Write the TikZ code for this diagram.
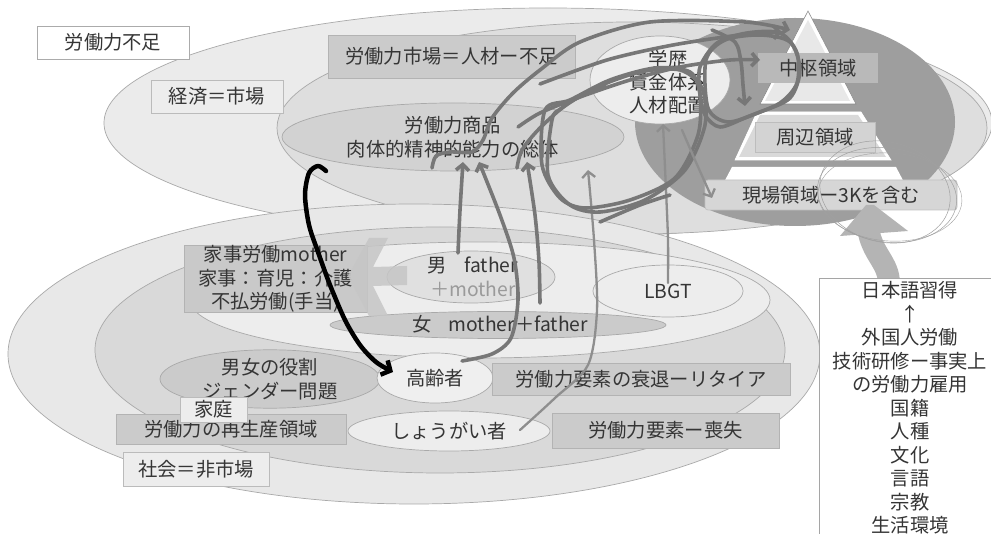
\documentclass[tikz,border=0pt]{standalone}
\usepackage{fontspec}
\setmainfont{Noto Sans CJK JP}
\usetikzlibrary{shapes.geometric,arrows.meta}
\definecolor{txt}{HTML}{353535}
\definecolor{edge}{HTML}{A9A9A9}
\definecolor{econ}{HTML}{EBEBEB}
\definecolor{mkt}{HTML}{DEDEDE}
\definecolor{comm}{HTML}{D2D2D2}
\definecolor{lightf}{HTML}{EDEDED}
\definecolor{midf}{HTML}{D9D9D9}
\definecolor{darkf}{HTML}{CBCBCB}
\definecolor{boxfill}{HTML}{CBCBCB}
\definecolor{boxedge}{HTML}{B3B3B3}
\definecolor{scrib}{HTML}{777777}
\definecolor{thinscrib}{HTML}{8E8E8E}
\definecolor{blob}{HTML}{9E9E9E}
\definecolor{bigarrow}{HTML}{B4B4B4}
\definecolor{pencil}{HTML}{A0A0A0}
\definecolor{triA}{HTML}{E8E8E8}
\definecolor{socF}{HTML}{E8E8E8}
\definecolor{chusuF}{HTML}{B9B9B9}
\definecolor{shuhenF}{HTML}{D3D3D3}
\definecolor{shuhenE}{HTML}{BDBDBD}
\definecolor{genbaF}{HTML}{D6D6D6}
\definecolor{genbaE}{HTML}{C2C2C2}
\definecolor{otokoF}{HTML}{E0E0E0}
\definecolor{plusm}{HTML}{9A9A9A}
\definecolor{koreiF}{HTML}{EFEFEF}
\definecolor{fusokuE}{HTML}{ABABAB}
\definecolor{lightE}{HTML}{BBBBBB}
\definecolor{kajiF}{HTML}{C9C9C9}
\definecolor{chev}{HTML}{C6C6C6}
\definecolor{gaiE}{HTML}{A5A5A5}
\begin{document}
\begin{tikzpicture}[x=1pt,y=-1pt,
  every node/.style={text=txt,font=\fontsize{19.3}{23.5}\selectfont,inner sep=0pt},
  reg/.style={ellipse,draw=edge,line width=0.7pt},
  box/.style={rectangle,draw=boxedge,fill=boxfill,line width=0.8pt},
  scr/.style={draw=scrib,line width=3.6pt,line cap=round,line join=round},
  thinscr/.style={draw=thinscrib,line width=2.3pt,line cap=round,line join=round},
  barb/.style={-{Straight Barb[length=6pt,width=13pt]}},
]
\useasboundingbox (0,0) rectangle (991,534);
\clip (0,0) rectangle (991,534);
\fill[white] (0,0) rectangle (991,534);

% ---------- economy (market) ----------
\node[reg,fill=econ,minimum width=888pt,minimum height=230pt] (econ) at (548,123) {};
\node[reg,fill=mkt,minimum width=710pt,minimum height=212pt] (mkt) at (632,128) {};
\node[reg,fill=comm,minimum width=342pt,minimum height=68pt,align=center] (comm) at (453,137) {労働力商品\\肉体的精神的能力の総体};

% dark region
\fill[blob] (795,122) ellipse [x radius=160pt, y radius=104pt];

% school ellipse
\node[reg,fill=lightf,minimum width=140pt,minimum height=88pt] (gak) at (660,80) {};
\node[align=center,font=\fontsize{19.3}{23}\selectfont] (gakt) at (668,82) {学歴\\賃金体系\\人材配置};

% triangle
\filldraw[fill=white,draw=black!45,line width=0.6pt] (808,11) -- (856,104) -- (760,104) -- cycle;
\fill[triA] (808,20) -- (850,101) -- (765,101) -- cycle;
\filldraw[fill=white,draw=white,line width=0.6pt] (757,112) -- (861,112) -- (891,160) -- (735,160) -- cycle;
\fill[midf] (760,115) -- (858,115) -- (886,157) -- (739,157) -- cycle;
\fill[white] (732,167) -- (896,167) -- (916,205) -- (712,205) -- cycle;

\node[fill=chusuF,minimum width=120pt,minimum height=30pt] (chusu) at (818,68) {中枢領域};
\node[box,fill=shuhenF,draw=shuhenE,minimum width=120pt,minimum height=30pt] (shuhen) at (815,137) {周辺領域};
\node[box,fill=genbaF,draw=genbaE,rounded corners=3pt,minimum width=252pt,minimum height=30pt] (genba) at (831,195) {現場領域ー3Kを含む};

% ---------- society (non-market) ----------
\node[reg,fill=socF,minimum width=812pt,minimum height=300pt] (soc) at (414,354) {};
\node[reg,fill=midf,minimum width=690pt,minimum height=246pt] (fam) at (440,350) {};
\node[reg,fill=lightf,minimum width=580pt,minimum height=116pt] (home) at (480,300) {};
\node[reg,fill=otokoF,minimum width=168pt,minimum height=52pt] (otoko) at (471,277) {};
\node (otokot) at (473,265) {男\hspace{0.9em}father};
\node[text=plusm] (plusmt) at (473,289) {＋mother};
\node[reg,fill=darkf,minimum width=336pt,minimum height=27pt] (onna) at (498,325) {};
\node (onnat) at (500,324) {女\hspace{0.9em}mother＋father};
\node[reg,fill=lightf,minimum width=150pt,minimum height=52pt] (lbgt) at (668,291) {LBGT};
\node[reg,fill=darkf,minimum width=220pt,minimum height=54pt,align=center] (gender) at (270,379) {男女の役割\\ジェンダー問題};
\node[reg,fill=koreiF,minimum width=116pt,minimum height=50pt] (koreisha) at (435,378) {高齢者};
\node[reg,fill=lightf,minimum width=202pt,minimum height=40pt] (shogai) at (449,431) {しょうがい者};

% boxes
\node[box,fill=white,draw=fusokuE,minimum width=152pt,minimum height=33pt] (fusoku) at (113,42.5) {労働力不足};
\node[box,fill=lightf,draw=lightE,minimum width=132pt,minimum height=33pt] (keizai) at (217,96.5) {経済＝市場};
\node[box,minimum width=247pt,minimum height=43pt] (shijo) at (451.5,56.5) {労働力市場＝人材ー不足};
\node[box,fill=kajiF,minimum width=183pt,minimum height=62pt,align=center,font=\fontsize{19.3}{23.5}\selectfont] (kaji) at (275.5,279) {家事労働mother\\家事：育児：介護\\不払労働(手当)};
\node[box,minimum width=230pt,minimum height=30pt] (saisei) at (231,429) {労働力の再生産領域};
\node[box,fill=lightf,draw=lightE,minimum width=67pt,minimum height=25pt] (katei) at (213.5,409.5) {家庭};
\node[box,fill=lightf,draw=lightE,minimum width=146pt,minimum height=34pt] (shakai) at (196,469) {社会＝非市場};
\node[box,minimum width=298pt,minimum height=32pt] (retire) at (641,379) {労働力要素の衰退ーリタイア};
\node[box,minimum width=227pt,minimum height=35pt] (soshitsu) at (665.5,430.5) {労働力要素ー喪失};

% light chevron
\fill[chev,opacity=0.85] (348,276) -- (369,238) -- (388,238) -- (373,267) -- (407,266) -- (407,285) -- (373,286) -- (388,316) -- (369,316) -- cycle;

% ---------- foreign labour ----------
\draw[line width=22pt,bigarrow] (889,284) .. controls (889,262) and (872,255) .. (868,228);
\fill[bigarrow] (840,236) -- (866,205) -- (874,205) -- (908,231) -- cycle;
\node[draw=gaiE,fill=white,line width=0.8pt,minimum width=200pt,minimum height=280pt,anchor=north west] (gaikoku) at (819,278) {};
\node[align=center,font=\fontsize{19.3}{23.5}\selectfont] (gaikokut) at (910,408) {日本語習得\\↑\\外国人労働\\技術研修ー事実上\\の労働力雇用\\国籍\\人種\\文化\\言語\\宗教\\生活環境};

% pencil scribble circle
\draw[pencil,line width=0.5pt,rotate around={-8:(887,195)}] (887,195) ellipse [x radius=70pt, y radius=47pt];
\draw[pencil,line width=0.5pt,rotate around={-14:(885,192)}] (885,192) ellipse [x radius=66pt, y radius=50pt];
\draw[pencil,line width=0.4pt,rotate around={-4:(890,197)}] (890,197) ellipse [x radius=72pt, y radius=44pt];

% ---------- scribbled arrows ----------
\coordinate (a1s) at (458,253);
\draw[scr,barb] plot[smooth] coordinates {(a1s) (460,210) (463,162)};
\draw[scr,barb] plot[smooth] coordinates {(462,361) (492,354) (511,338) (518,300) (514,258) (500,215) (479,162)};
\draw[scr,barb] plot[smooth] coordinates {(540,303) (539,262) (535,215) (527,162)};
\draw[thinscr,barb] plot[smooth] coordinates {(668,283) (668,240) (666,190) (663,124)};
\draw[thinscr,barb] plot[smooth] coordinates {(520,430) (555,398) (588,365) (597,310) (594,240) (588,170)};
\draw[scr,barb] plot[smooth] coordinates {(432,168) (436,156) (450,152) (472,152) (483,140) (492,118) (513,93) (540,70) (580,42) (650,22) (745,22) (790,30)};
\draw[scr,barb] plot[smooth] coordinates {(540,84) (607,60) (673,45) (740,35) (782,32)};
\draw[scr,barb] plot[smooth] coordinates {(518,127) (540,113) (580,97) (630,80) (680,67) (730,60) (760,60)};
\draw[scr] plot[smooth cycle] coordinates {(545,110) (542,165) (560,198) (585,208) (630,200) (675,178) (698,135) (700,95) (690,72) (655,68) (610,80) (570,100)};
\draw[scr] plot[smooth cycle] coordinates {(552,120) (548,175) (570,205) (600,212) (645,200) (685,170) (705,125) (702,88) (680,70) (640,72) (595,88) (562,108)};
\draw[scr] plot[smooth] coordinates {(517,168) (522,150) (540,128) (570,102) (605,86)};
\draw[scr] plot[smooth] coordinates {(600,222) (640,205) (670,195)};
\draw[scr] plot[smooth cycle] coordinates {(700,67) (717,43) (747,33) (780,33) (797,53) (797,83) (780,103) (747,117) (720,127) (705,115) (700,93)};
\draw[scr] plot[smooth cycle] coordinates {(706,60) (725,40) (760,35) (790,42) (800,70) (790,98) (760,112) (728,122) (708,108)};
\draw[scr,barb] plot[smooth] coordinates {(712,30) (735,42) (741,62) (743,85) (745,106)};
\draw[thinscr,barb] plot[smooth] coordinates {(682,130) (695,160) (712,198)};

% black arrow
\draw[black,line width=4.5pt,line cap=round,line join=round,-{Straight Barb[length=7pt,width=16pt]}] plot[smooth] coordinates {(326,171) (318,166) (309,173) (305,195) (309,225) (318,252) (330,285) (345,320) (360,345) (376,362) (393,372)};
\end{tikzpicture}
\end{document}
